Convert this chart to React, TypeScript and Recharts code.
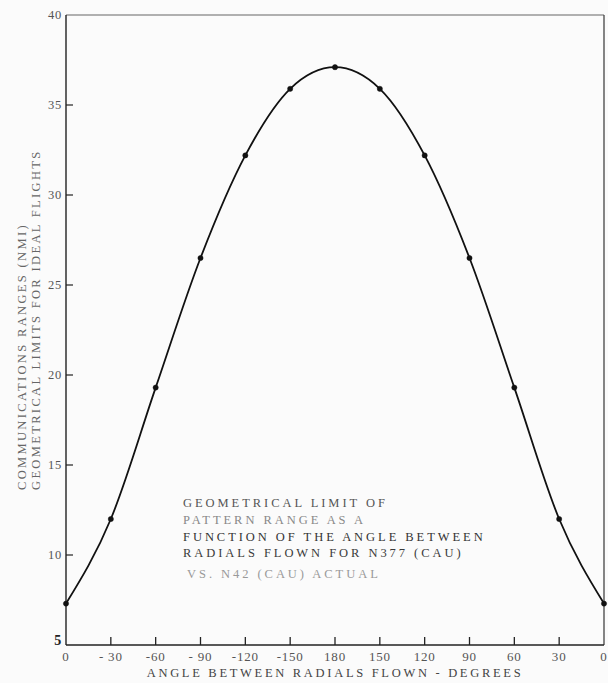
import React from "react";
import { LineChart, Line, XAxis, YAxis, ReferenceLine } from "recharts";

const angleLabels = ["0", "- 30", "-60", "- 90", "-120", "-150", "180", "150", "120", "90", "60", "30", "0"];
const rangeValues = [7.3, 12.0, 19.3, 26.5, 32.2, 35.9, 37.1, 35.9, 32.2, 26.5, 19.3, 12.0, 7.3];
const yTicks = [5, 10, 15, 20, 25, 30, 35, 40];
const yLabelLines = ["COMMUNICATIONS RANGES (NMI)", "GEOMETRICAL LIMITS FOR IDEAL FLIGHTS"];
const noteLines = [
  "GEOMETRICAL LIMIT OF",
  "PATTERN RANGE AS A",
  "FUNCTION OF THE ANGLE BETWEEN",
  "RADIALS FLOWN FOR N377 (CAU)",
  "VS.  N42 (CAU) ACTUAL",
];
const noteColors = ["#555", "#888", "#333", "#3a3a3a", "#999"];
const xTitle = "ANGLE BETWEEN RADIALS FLOWN - DEGREES";

const data = rangeValues.map((v, i) => ({ idx: i, range: v }));
const FONT = "Liberation Serif";
const fontStyle = { fontFamily: FONT };

const XTick = (props: any) => {
  const { x, y, payload, index } = props;
  const axisY = y - 6;
  const isEdge = index === 0 || index === angleLabels.length - 1;
  return (
    <g>
      {!isEdge && <line x1={x} x2={x} y1={axisY} y2={axisY - 8} stroke="#222" strokeWidth={1.3} />}
      <text x={x} y={y} dy="0.75em" textAnchor="middle" style={fontStyle} fontSize={13} fill="#555" letterSpacing={0.8}>
        {angleLabels[payload.value]}
      </text>
    </g>
  );
};

const YTick = (props: any) => {
  const { x, y, payload } = props;
  const axisX = x + 4;
  const v = payload.value;
  return (
    <g>
      {v !== 5 && v !== 40 && <line x1={axisX} x2={axisX + 7} y1={y} y2={y} stroke="#222" strokeWidth={1.2} />}
      <text
        x={x}
        y={v === 5 ? y - 5 : y}
        dy="0.35em"
        textAnchor="end"
        style={fontStyle}
        fontSize={v === 5 ? 14 : 12.5}
        fontWeight={v === 5 ? "bold" : "normal"}
        fill={v === 5 ? "#222" : "#555"}
        letterSpacing={0.8}
      >
        {v}
      </text>
    </g>
  );
};

export default function App() {
  return (
    <div style={{ position: "absolute", left: 0, top: 0, background: "#fbfbfb" }}>
      <LineChart width={608} height={683} data={data} margin={{ top: 15, right: 4, bottom: 18, left: 36 }}>
        <XAxis
          dataKey="idx"
          type="number"
          domain={[0, 12]}
          ticks={data.map((d) => d.idx)}
          tick={<XTick />}
          tickLine={false}
          tickSize={0}
          tickMargin={6}
          height={20}
          axisLine={{ stroke: "#222", strokeWidth: 1.4 }}
          interval={0}
        />
        <YAxis
          type="number"
          domain={[5, 40]}
          ticks={yTicks}
          tick={<YTick />}
          tickLine={false}
          tickSize={0}
          tickMargin={4}
          width={30}
          axisLine={{ stroke: "#222", strokeWidth: 1.4 }}
          interval={0}
        />
        <ReferenceLine y={40} stroke="#666" strokeWidth={1.2} />
        <ReferenceLine x={12} stroke="#444" strokeWidth={1.3} />
        <Line
          dataKey="range"
          type="monotone"
          stroke="#111"
          strokeWidth={1.8}
          dot={{ r: 2.6, fill: "#111", stroke: "#111", strokeWidth: 0.5 }}
          isAnimationActive={false}
        />
        <g>
          {yLabelLines.map((t, i) => (
            <text
              key={t}
              x={0}
              y={0}
              transform={`translate(${26 + i * 14}, 490) rotate(-90)`}
              textAnchor="start"
              style={fontStyle}
              fontSize={12.5}
              fill="#666"
              letterSpacing={2.35}
            >
              {t}
            </text>
          ))}
        </g>
        <g>
          {noteLines.map((t, i) => (
            <text
              key={t}
              x={i === 4 ? 187 : 183}
              y={[507, 524, 541, 557, 578][i]}
              style={fontStyle}
              fontSize={12.5}
              fill={noteColors[i]}
              letterSpacing={2.95}
            >
              {t}
            </text>
          ))}
        </g>
        <text x={335} y={677} textAnchor="middle" style={fontStyle} fontSize={12.5} fill="#444" letterSpacing={2.7}>
          {xTitle}
        </text>
      </LineChart>
    </div>
  );
}
